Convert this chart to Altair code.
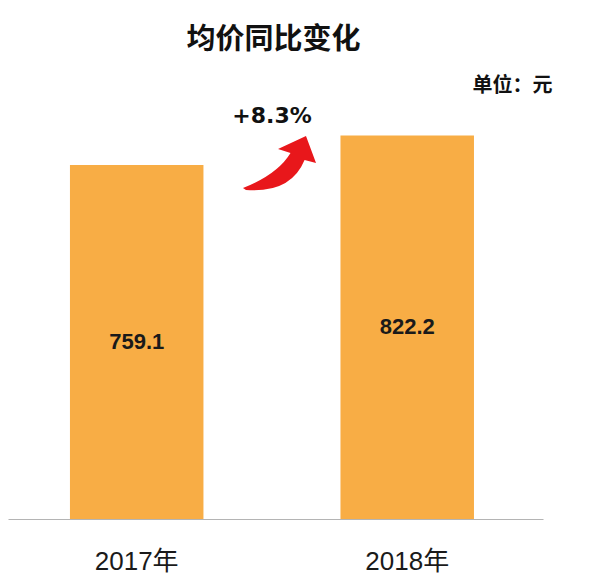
import altair as alt
import pandas as pd

# ---- data ----
years = ["2017年", "2018年"]
prices = [759.1, 822.2]
title_text = "均价同比变化"
unit_text = "单位：元"

df = pd.DataFrame({"year": years, "price": prices})
df["mid"] = df["price"] / 2
df["label"] = df["price"].map(lambda v: f"{v:.1f}")

pct = (prices[1] / prices[0] - 1) * 100
ann = pd.DataFrame({"label": [f"+{pct:.1f}%"]})

BAR = "#F8AD45"
RED = "#E8171B"
LATIN = "Liberation Sans, Arial, Noto Sans CJK SC"

x = alt.X(
    "year:N",
    sort=years,
    scale=alt.Scale(paddingInner=0.5065, paddingOuter=0.2421, align=0.473),
    axis=alt.Axis(
        title=None, labelAngle=0, ticks=False, labelPadding=29,
        labelFontSize=26, labelFont=LATIN, labelColor="#1a1a1a",
        domainColor="#b4b4b4", domainWidth=1.2, grid=False,
    ),
)
y = alt.Y(
    "price:Q",
    scale=alt.Scale(domain=[0, 967], nice=False),
    axis=alt.Axis(
        orient="right", labels=False, ticks=False, domain=False, grid=False,
        title=unit_text, titleAngle=0, titleX=-31, titleY=17,
        titleAlign="center", titleBaseline="middle",
        titleFontSize=20, titleFontWeight="bold",
        titleFont="Noto Sans CJK SC", titleColor="#111111",
    ),
)

bars = alt.Chart(df).mark_bar(color=BAR).encode(x=x, y=y)

values = alt.Chart(df).mark_text(
    font=LATIN, fontSize=22, fontWeight="bold", color="#1a1a1a", baseline="middle"
).encode(x=alt.X("year:N", sort=years), y="mid:Q", text="label:N")

pct_text = alt.Chart(ann).mark_text(
    font="DejaVu Sans", fontSize=22, fontWeight="bold", color="#111111",
    baseline="middle", align="center",
).encode(x=alt.value(264), y=alt.value(48), text="label:N")

arrow_path = (
    "M -0.961 0.658 Q -0.05 0.30 0.290 -0.263 "
    "L -0.039 -0.368 L 0.697 -0.711 L 0.961 0 L 0.660 -0.079 "
    "Q 0.30 0.80 -0.882 0.711 Z"
)
arrow = alt.Chart(ann).mark_point(
    shape=arrow_path, filled=True, size=5776, color=RED, opacity=1, strokeWidth=0
).encode(x=alt.value(271.5), y=alt.value(95))

chart = (
    alt.layer(bars, values, pct_text, arrow)
    .properties(
        width=535, height=451,
        background="white",
        title=alt.TitleParams(
            title_text, fontSize=29, fontWeight="bold", font="Noto Sans CJK SC",
            anchor="middle", color="#111111", offset=12, dx=-2, dy=-1,
        ),
        autosize=alt.AutoSizeParams(type="none"),
        padding={"left": 0, "top": 60, "right": 49, "bottom": 60},
    )
    .configure_view(stroke=None, strokeWidth=0)
)

chart.save("out.html", embed_options={"renderer": "svg", "actions": False})
